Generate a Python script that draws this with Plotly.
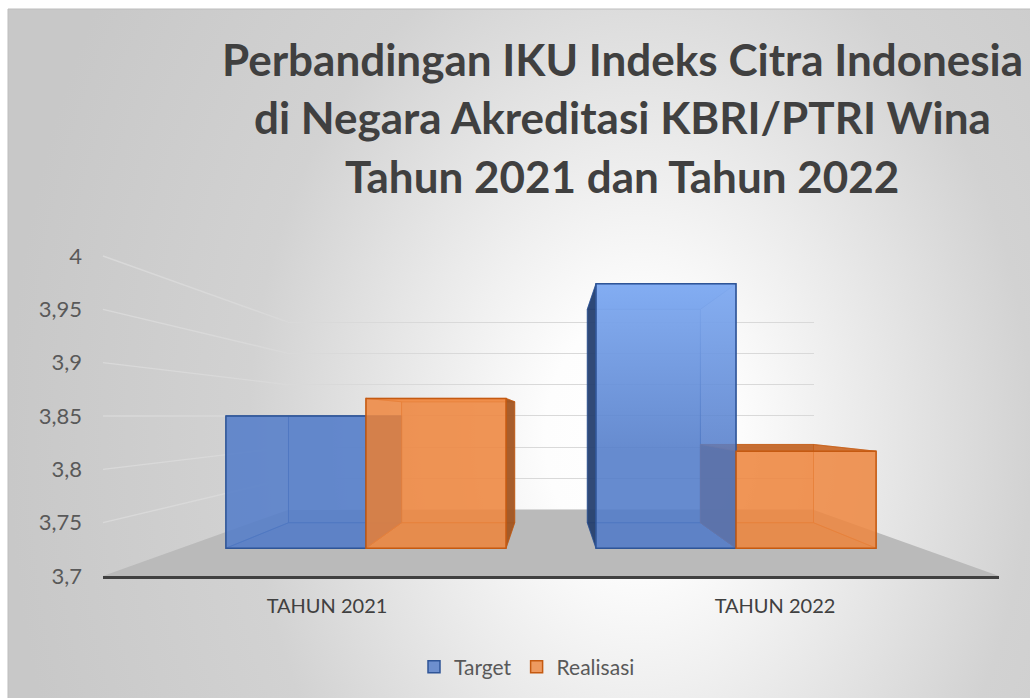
import plotly.graph_objects as go

# ---------------- data ----------------
categories = ["TAHUN 2021", "TAHUN 2022"]
target = [3.85, 4.00]
realisasi = [3.87, 3.81]
series_names = ["Target", "Realisasi"]
tick_vals = [3.7, 3.75, 3.8, 3.85, 3.9, 3.95, 4.0]
tick_labels = ["3,7", "3,75", "3,8", "3,85", "3,9", "3,95", "4"]
title_lines = ["Perbandingan IKU Indeks Citra Indonesia",
               "di Negara Akreditasi KBRI/PTRI Wina",
               "Tahun 2021 dan Tahun 2022"]

# ---------------- geometry / style ----------------
W, H = 1030, 698
Y_MIN, Y_MAX = 3.7, 4.0
Y_EYE = 3.85                 # value seen at eye level (horizontal gridline)
VPX, VPY = 551.0, 416.0      # vanishing centre in pixels
UX = 448.0                   # px per category on the floor-front plane
UY = 320.0 / 0.3             # px per value unit on the floor-front plane
S_LABEL, S_FRONT, S_BACK, S_WALL = 1.0, 0.826, 0.667, 0.587
BARGAP = 0.243
BW = (1 - BARGAP) / 2
PAD = 0.02
FONT = "Lato"

BLUE, BLUE_DK, BLUE_LT = (68, 114, 196), (47, 85, 151), (140, 182, 250)
ORANGE, ORANGE_DK, ORANGE_LT = (237, 125, 49), (197, 90, 17), (250, 170, 110)
COLORS = [(BLUE, BLUE_DK, BLUE_LT), (ORANGE, ORANGE_DK, ORANGE_LT)]


def px(u, s):
    return VPX + s * (u - 0.5) * UX


def py(v, s):
    return VPY - s * (v - Y_EYE) * UY


def fx(p):
    return p / W


def fy(p):
    return 1 - p / H


def rgba(c, a):
    return f"rgba({c[0]},{c[1]},{c[2]},{a})"


def shade(c, f):
    return tuple(int(round(x * f)) for x in c)


def tint(c, f):
    return tuple(int(round(x + (255 - x) * f)) for x in c)


def plane_domain(s, lo, hi):
    return ([fx(px(-0.5, s)), fx(px(1.5, s))],
            [fy(py(lo, s)), fy(py(hi, s))])


def bar_span(c, k):
    u0 = c - BW + k * BW
    return u0, u0 + BW


fig = go.Figure()
values = [target, realisasi]
skip = dict(showlegend=False, hoverinfo="skip")

# ---------- subplot 1: background, floor and side-wall lines (pixel space) ----------
CX, CY, RX, RY = 640.0, 437.0, 632.0, 844.0
bg_x = [8, 1040, 1040, CX + RX, CX + RX, 8, 8]
bg_y = [9, 9, CY - RY, CY - RY, CY + RY, CY + RY, 9]
fig.add_trace(go.Scatter(
    x=bg_x, y=bg_y, mode="lines", line=dict(width=0), fill="toself",
    fillcolor="#e0e0e0",
    fillgradient=dict(type="radial", colorscale=[[0, "#ffffff"], [0.15, "#fdfdfd"],
                                                  [0.62, "#d2d2d2"], [1, "#c8c8c8"]]),
    xaxis="x", yaxis="y", **skip))
fig.add_trace(go.Scatter(
    x=[8, 8, W], y=[H, 9, 9], mode="lines", line=dict(color="#bdbdbd", width=1),
    xaxis="x", yaxis="y", **skip))
# left wall gridlines (from floor-front scale to back-wall scale)
for v in tick_vals[1:]:
    fig.add_trace(go.Scatter(
        x=[px(-0.5, S_LABEL), px(-0.5, S_WALL)], y=[py(v, S_LABEL), py(v, S_WALL)],
        mode="lines", line=dict(color="#d9d9d9", width=1.4),
        xaxis="x", yaxis="y", **skip))
# floor
fl_x = [px(-0.5, S_LABEL), px(-0.5, S_WALL), px(1.5, S_WALL), px(1.5, S_LABEL), px(-0.5, S_LABEL)]
fl_y = [py(Y_MIN, S_LABEL), py(Y_MIN, S_WALL), py(Y_MIN, S_WALL), py(Y_MIN, S_LABEL), py(Y_MIN, S_LABEL)]
fig.add_trace(go.Scatter(
    x=fl_x, y=fl_y, mode="lines", line=dict(width=0), fill="toself",
    fillcolor="#bababa", xaxis="x", yaxis="y", **skip))

# ---------- subplot 2: back wall gridlines ----------
fig.add_trace(go.Scatter(x=categories, y=[Y_MIN, Y_MIN], mode="markers",
                         marker=dict(opacity=0), xaxis="x2", yaxis="y2", **skip))

# ---------- subplot 3: back faces of the bars ----------
for k, name in enumerate(series_names):
    base, dark, light = COLORS[k]
    fig.add_trace(go.Bar(
        x=categories, y=[v - Y_MIN for v in values[k]], base=Y_MIN, name=name,
        marker=dict(color=rgba(base, 0.35), line=dict(color=rgba(dark, 0.6), width=1)),
        xaxis="x3", yaxis="y3", **skip))

# ---------- subplot 4: side / top / bottom faces (3-D extrusion) ----------
for c in range(len(categories)):
    for k in range(len(series_names)):
        base, dark, light = COLORS[k]
        v = values[k][c]
        u0, u1 = bar_span(c, k)
        faces = [([(u0, Y_MIN), (u1, Y_MIN)], "bottom"),
                 ([(u0, v), (u1, v)], "top"),
                 ([(u0, Y_MIN), (u0, v)], "left"),
                 ([(u1, Y_MIN), (u1, v)], "right")]
        for pts, kind in faces:
            (ua, va), (ub, vb) = pts
            xs = [px(ua, S_FRONT), px(ub, S_FRONT), px(ub, S_BACK), px(ua, S_BACK), px(ua, S_FRONT)]
            ys = [py(va, S_FRONT), py(vb, S_FRONT), py(vb, S_BACK), py(va, S_BACK), py(va, S_FRONT)]
            fill = rgba(base, 0.22)
            if kind == "left" and px(u0, S_FRONT) > VPX:
                fill = rgba(shade(base, 0.55), 0.92)
            elif kind == "right" and px(u1, S_FRONT) < VPX:
                fill = rgba(shade(base, 0.68), 0.92)
            elif kind == "top" and v < Y_EYE:
                fill = rgba(shade(base, 0.82), 0.92)
            elif kind == "top" and v > Y_EYE:
                fill = rgba(light, 0.95)
            elif kind == "bottom":
                fill = rgba(shade(base, 0.9), 0.35)
            fig.add_trace(go.Scatter(
                x=xs, y=ys, mode="lines", fill="toself", fillcolor=fill,
                line=dict(color=rgba(dark, 0.6), width=1),
                xaxis="x4", yaxis="y4", **skip))

# ---------- subplot 5: front faces of the bars ----------
for k, name in enumerate(series_names):
    base, dark, light = COLORS[k]
    fig.add_trace(go.Bar(
        x=categories, y=[v - Y_MIN for v in values[k]], base=Y_MIN, name=name,
        marker=dict(color=rgba(tint(base, 0.08), 0.82), line=dict(color=rgba(dark, 1), width=1.5)),
        xaxis="x5", yaxis="y5", hovertemplate="%{x}: %{y}<extra>" + name + "</extra>"))

# ---------- subplot 6: labels on the floor-front plane ----------
fig.add_trace(go.Scatter(x=categories, y=[Y_MIN, Y_MIN], mode="markers",
                         marker=dict(opacity=0), xaxis="x6", yaxis="y6", **skip))

# ---------- subplot 7: light sheen on the upper part of the front faces ----------
for c in range(len(categories)):
    for k in range(len(series_names)):
        base, dark, light = COLORS[k]
        v = values[k][c]
        if v <= Y_EYE + 0.02:
            continue
        u0, u1 = bar_span(c, k)
        xa, xb = px(u0, S_FRONT) + 1, px(u1, S_FRONT) - 1
        ya, yb = py(Y_EYE - 0.04, S_FRONT), py(v, S_FRONT) + 1
        fig.add_trace(go.Scatter(
            x=[xa, xb, xb, xa, xa], y=[ya, ya, yb, yb, ya], mode="lines",
            line=dict(width=0), fill="toself", fillcolor=rgba(light, 0.2),
            fillgradient=dict(type="vertical", start=ya, stop=yb,
                              colorscale=[[0, rgba(light, 0)], [1, rgba(light, 0.8)]]),
            xaxis="x7", yaxis="y7", **skip))

# ---------- axes ----------
hidden = dict(visible=False, fixedrange=True)
cat_axis = dict(type="category", categoryorder="array", categoryarray=categories,
                range=[-0.5, 1.5], fixedrange=True)

layout_axes = {}
layout_axes["xaxis"] = dict(hidden, domain=[0, 1], range=[0, W])
layout_axes["yaxis"] = dict(hidden, domain=[0, 1], range=[H, 0])

xd, yd = plane_domain(S_WALL, Y_MIN - PAD, Y_MAX + PAD)
layout_axes["xaxis2"] = dict(cat_axis, domain=xd, anchor="y2", visible=False)
layout_axes["yaxis2"] = dict(domain=yd, anchor="x2", range=[Y_MIN - PAD, Y_MAX + PAD],
                             tickvals=tick_vals, showticklabels=False, ticks="",
                             showgrid=True, gridcolor="#d9d9d9", gridwidth=1.4,
                             zeroline=False, showline=False, fixedrange=True)

xd, yd = plane_domain(S_BACK, Y_MIN - PAD, Y_MAX + PAD)
layout_axes["xaxis3"] = dict(cat_axis, domain=xd, anchor="y3", visible=False)
layout_axes["yaxis3"] = dict(hidden, domain=yd, anchor="x3", range=[Y_MIN - PAD, Y_MAX + PAD])

layout_axes["xaxis4"] = dict(hidden, domain=[0, 1], range=[0, W], anchor="y4")
layout_axes["yaxis4"] = dict(hidden, domain=[0, 1], range=[H, 0], anchor="x4")

xd, yd = plane_domain(S_FRONT, Y_MIN - PAD, Y_MAX + PAD)
layout_axes["xaxis5"] = dict(cat_axis, domain=xd, anchor="y5", visible=False)
layout_axes["yaxis5"] = dict(hidden, domain=yd, anchor="x5", range=[Y_MIN - PAD, Y_MAX + PAD])

xd, yd = plane_domain(S_LABEL, Y_MIN, Y_MAX)
layout_axes["xaxis6"] = dict(cat_axis, domain=xd, anchor="y6", showline=True,
                             linecolor="#404040", linewidth=3, ticks="", showgrid=False,
                             tickfont=dict(family=FONT, size=20, color="#404040"),
                             ticklabelstandoff=10, automargin=False)
layout_axes["yaxis6"] = dict(domain=yd, anchor="x6", range=[Y_MIN, Y_MAX],
                             tickvals=tick_vals, ticktext=tick_labels, ticks="",
                             showgrid=False, zeroline=False, showline=False,
                             tickfont=dict(family=FONT, size=22, color="#595959"),
                             ticklabelstandoff=20, fixedrange=True, automargin=False)

layout_axes["xaxis7"] = dict(hidden, domain=[0, 1], range=[0, W], anchor="y7")
layout_axes["yaxis7"] = dict(hidden, domain=[0, 1], range=[H, 0], anchor="x7")

annotations = []
for i, line in enumerate(title_lines):
    annotations.append(dict(
        text="<b>" + line + "</b>", x=fx(622), y=fy(58.5 + 58.5 * i), xref="paper", yref="paper",
        xanchor="center", yanchor="middle", showarrow=False,
        font=dict(family=FONT, size=44, color="#404040")))

fig.update_layout(
    width=W, height=H, autosize=False, margin=dict(l=0, r=0, t=0, b=0, pad=0, autoexpand=False),
    paper_bgcolor="#ffffff", plot_bgcolor="rgba(0,0,0,0)",
    barmode="group", bargap=BARGAP, bargroupgap=0,
    showlegend=True,
    legend=dict(orientation="h", x=fx(527), xanchor="center", y=fy(667), yanchor="middle",
                font=dict(family=FONT, size=21, color="#595959"),
                bgcolor="rgba(0,0,0,0)", itemwidth=30, traceorder="normal"),
    annotations=annotations,
    **layout_axes,
)

fig.write_html("out.html", config={"responsive": False, "displayModeBar": False},
               post_script="document.body.style.margin='0';document.body.style.padding='0';")
